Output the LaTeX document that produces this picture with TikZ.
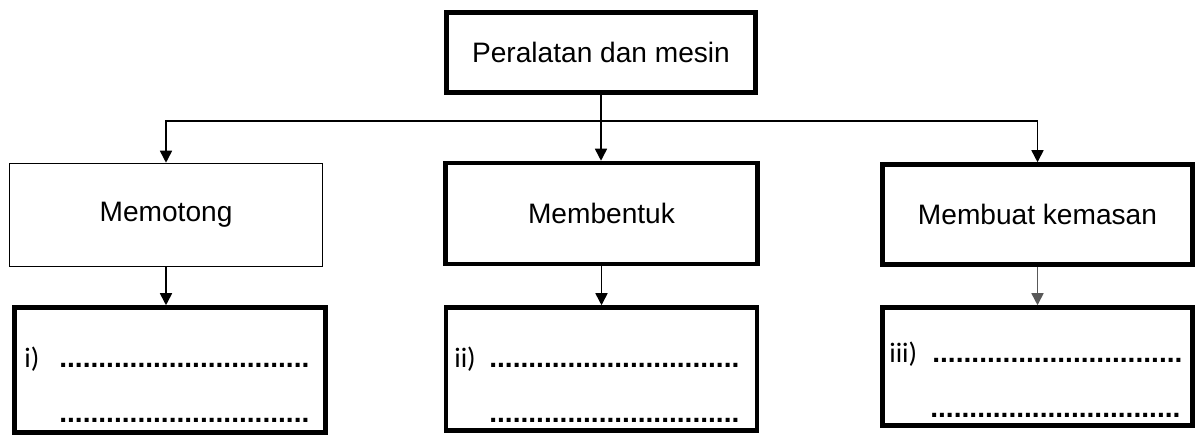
\documentclass[tikz,border=0pt]{standalone}
\usepackage{fontspec}
\setmainfont{Liberation Sans}
\newfontfamily\answerfont{Carlito}
\usetikzlibrary{arrows.meta}

\tikzset{
  thinbox/.style={draw,line width=0.9pt,minimum width=6.26cm,minimum height=2.06cm,
    font=\fontsize{16}{19}\selectfont},
  thickbox/.style={draw,line width=2.6pt,minimum width=6.2cm,minimum height=2.02cm,
    font=\fontsize{16}{19}\selectfont},
  answerbox/.style={draw,line width=2.6pt,minimum width=6.22cm},
  answer/.style={anchor=base west,inner sep=0pt,font=\answerfont\fontsize{16}{19}\selectfont},
  dotline/.style={anchor=base west,inner sep=0pt,font=\bfseries\fontsize{16}{19}\selectfont},
  link/.style={line width=0.9pt,->,>={Triangle[width=0.24cm,length=0.24cm]}},
}

\begin{document}
\begin{tikzpicture}[x=0.02cm,y=-0.02cm]
  \useasboundingbox (0,0) rectangle (1199,437);
  % top box
  \node[thickbox,minimum width=6.18cm,minimum height=1.6cm] (tools) at (601,52.5) {Peralatan dan mesin};
  % the three kinds of work
  \node[thinbox] (cut) at (166,215) {Memotong};
  \node[thickbox,minimum width=6.24cm] (shape) at (601.5,213.5) {Membentuk};
  \node[thickbox,minimum height=2cm] (pack) at (1037.5,214.5) {Membuat kemasan};
  % answer boxes
  \node[answerbox,minimum height=2.5cm] (ans1) at (170,370) {};
  \node[answerbox,minimum height=2.46cm] (ans2) at (601.5,369) {};
  \node[answerbox,minimum width=6.2cm,minimum height=2.36cm] (ans3) at (1037.5,366.5) {};
  \node[answer] (num1) at (24,367) {i)};
  \node[dotline] (line1a) at (59,367) {................................};
  \node[dotline] (line1b) at (59,422) {................................};
  \node[answer] (num2) at (454,367) {ii)};
  \node[dotline] (line2a) at (489,367) {................................};
  \node[dotline] (line2b) at (489,422) {................................};
  \node[answer] (num3) at (889,362) {iii)};
  \node[dotline] (line3a) at (932,362) {................................};
  \node[dotline] (line3b) at (930,417) {................................};
  % connectors
  \coordinate (split) at (601,121);
  \draw[link] (tools.south) -- (tools.south |- shape.north);
  \draw[link] (split) -| (cut.north);
  \draw[link] (split) -| (pack.north);
  \draw[link] (cut.south) -- (cut.south |- ans1.north);
  \draw[link] (shape.south) -- (shape.south |- ans2.north);
  \draw[link,draw=black!65,fill=black!65] (pack.south) -- (pack.south |- ans3.north);
\end{tikzpicture}
\end{document}
